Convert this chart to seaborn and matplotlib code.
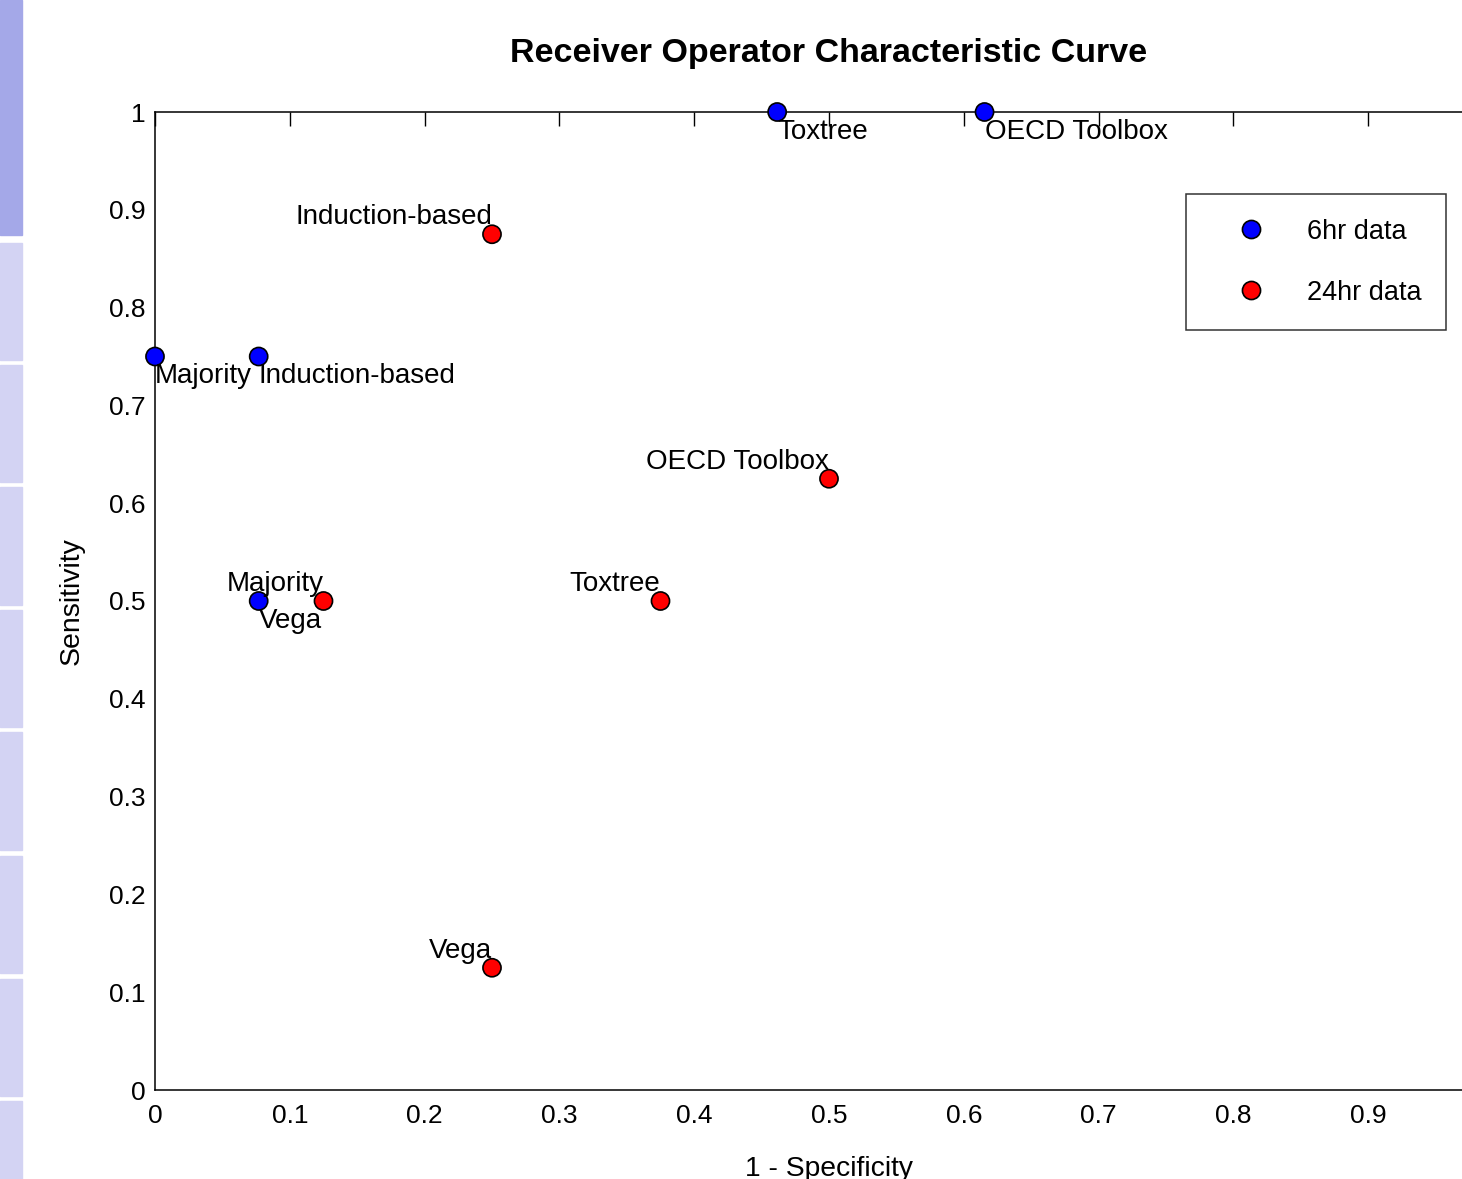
import matplotlib
matplotlib.use("Agg")
import matplotlib.pyplot as plt
from matplotlib.patches import Rectangle
import pandas as pd
import seaborn as sns

# values
names_6hr = ["Majority", "Induction-based", "Vega", "Toxtree", "OECD Toolbox"]
fpr_6hr = [0.0, 1 / 13, 1 / 13, 6 / 13, 8 / 13]
tpr_6hr = [0.75, 0.75, 0.5, 1.0, 1.0]

names_24hr = ["Induction-based", "OECD Toolbox", "Toxtree", "Majority", "Vega"]
fpr_24hr = [0.25, 0.5, 0.375, 0.125, 0.25]
tpr_24hr = [0.875, 0.625, 0.5, 0.5, 0.125]

series = ["6hr data", "24hr data"]
x_ticks = [0, 0.1, 0.2, 0.3, 0.4, 0.5, 0.6, 0.7, 0.8, 0.9]
y_ticks = [0, 0.1, 0.2, 0.3, 0.4, 0.5, 0.6, 0.7, 0.8, 0.9, 1]

df = pd.DataFrame({
    "fpr": fpr_6hr + fpr_24hr,
    "tpr": tpr_6hr + tpr_24hr,
    "name": names_6hr + names_24hr,
    "set": [series[0]] * len(fpr_6hr) + [series[1]] * len(fpr_24hr),
})

sns.set_theme(style="white")
plt.rcParams["font.family"] = ["Liberation Sans", "DejaVu Sans"]
plt.rcParams["text.color"] = "black"
plt.rcParams["axes.labelcolor"] = "black"

fig = plt.figure(figsize=(14.62, 11.79), dpi=100)

# slide strip on the left edge
fig.patches.append(Rectangle((0, 1 - 235 / 1179), 22 / 1462, 235 / 1179,
                             transform=fig.transFigure, color="#a4a8e8", zorder=0))
for top, bot in [(243, 360), (365, 482), (487, 605), (610, 727),
                 (732, 850), (856, 973), (979, 1096), (1101, 1179)]:
    fig.patches.append(Rectangle((0, 1 - bot / 1179), 22 / 1462, (bot - top) / 1179,
                                 transform=fig.transFigure, color="#d3d3f3", zorder=0))

ax = fig.add_axes([155 / 1462, 89 / 1179, 1348 / 1462, 978 / 1179])

sns.scatterplot(data=df, x="fpr", y="tpr", hue="set", palette={series[0]: "#0000ff", series[1]: "#ff0000"},
                s=170, edgecolor="black", linewidth=1.2, ax=ax, zorder=3, clip_on=False)

for n, x, y in zip(names_6hr, fpr_6hr, tpr_6hr):
    ax.text(x, y - 0.007, n, ha="left", va="top", fontsize=20, color="black")
for n, x, y in zip(names_24hr, fpr_24hr, tpr_24hr):
    ax.text(x, y + 0.004, n, ha="right", va="bottom", fontsize=20, color="black")

ax.set_xlim(0, 1)
ax.set_ylim(0, 1)
ax.set_xticks(x_ticks)
ax.set_yticks(y_ticks)
ax.set_xticklabels([f"{t:g}" for t in x_ticks])
ax.set_yticklabels([f"{t:g}" for t in y_ticks])
ax.tick_params(direction="in", length=10, width=1, colors="black", labelsize=19,
               top=True, right=True, pad=7)
ax.tick_params(axis="x", pad=10)
for sp in ax.spines.values():
    sp.set_color("black")
    sp.set_linewidth(1.1)

ax.set_title("Receiver Operator Characteristic Curve", fontsize=24.5, fontweight="bold",
             pad=36, color="black")
ax.set_xlabel("1 - Specificity", fontsize=20.3, labelpad=20)
ax.set_ylabel("Sensitivity", fontsize=20.5, labelpad=17)

leg = ax.legend(loc="upper left", bbox_to_anchor=(0.765, 0.916), fontsize=19.5, frameon=True,
                fancybox=False, edgecolor="black", borderpad=0.9, labelspacing=1.3,
                handlelength=3.0, handletextpad=0.55, borderaxespad=0, markerscale=1.0)
leg.get_frame().set_linewidth(1.1)
for t in leg.get_texts():
    t.set_color("black")
for h in leg.legend_handles:
    h.set_markeredgecolor("black")

fig.savefig("out.png", dpi=100)
